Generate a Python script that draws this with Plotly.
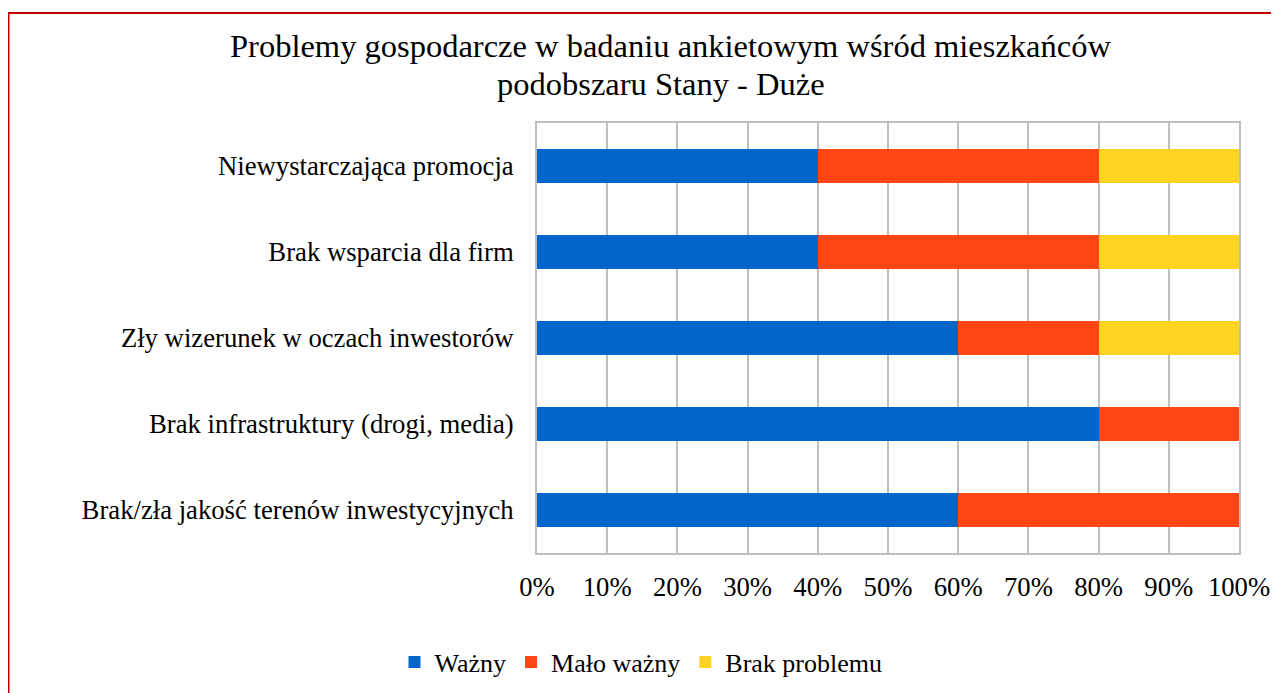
import plotly.graph_objects as go

categories = [
    "Brak/zła jakość terenów inwestycyjnych",
    "Brak infrastruktury (drogi, media)",
    "Zły wizerunek w oczach inwestorów",
    "Brak wsparcia dla firm",
    "Niewystarczająca promocja",
]
wazny = [0.60, 0.80, 0.60, 0.40, 0.40]
malo_wazny = [0.40, 0.20, 0.20, 0.40, 0.40]
brak_problemu = [0.00, 0.00, 0.20, 0.20, 0.20]

title_lines = [
    "Problemy gospodarcze w badaniu ankietowym wśród mieszkańców",
    "podobszaru Stany - Duże",
]

series = [
    ("Ważny", wazny, "#0066CC"),
    ("Mało ważny", malo_wazny, "#FF4512"),
    ("Brak problemu", brak_problemu, "#FFD320"),
]

# strona ma 8px marginesu, więc figura jest o 8px mniejsza
OFF = 8
W, H = 1279 - OFF, 693 - OFF
L, R, T, B = 537 - OFF, 1239 - OFF, 123 - OFF, 553 - OFF

fig = go.Figure()
for name, vals, color in series:
    fig.add_trace(go.Bar(
        y=categories, x=vals, name=name, orientation="h",
        marker=dict(color=color, line=dict(width=0)),
    ))

def px_x(p):
    return (p - OFF - L) / (R - L)

def px_y(p):
    return (B - (p - OFF)) / (B - T)

# czerwona ramka wykresu
fig.add_shape(type="rect", xref="paper", yref="paper",
              x0=px_x(8.5), x1=px_x(1290), y0=px_y(13), y1=px_y(710),
              line=dict(color="#C00000", width=2), layer="below")

# tytuł w dwóch liniach (ciaśniejsza interlinia niż domyślna)
for text, cx, cy in zip(title_lines, [670, 661], [46, 84]):
    fig.add_annotation(text=text, xref="paper", yref="paper",
                       x=px_x(cx), y=px_y(cy), xanchor="center", yanchor="middle",
                       showarrow=False, font=dict(size=32.5))

fig.update_layout(
    width=W, height=H,
    barmode="stack", bargap=0.605,
    paper_bgcolor="white", plot_bgcolor="white",
    font=dict(family="Liberation Serif, Times New Roman, serif", size=26.7, color="black"),
    margin=dict(l=L, r=W - R, t=T, b=H - B, autoexpand=False),
    xaxis=dict(
        range=[0, 1], tickformat=".0%", dtick=0.1,
        showgrid=True, gridcolor="#BFBFBF", gridwidth=1.5,
        showline=True, linecolor="#BFBFBF", linewidth=2, mirror=True,
        zeroline=False, ticks="", ticklabelstandoff=9,
        automargin=False, fixedrange=True,
    ),
    yaxis=dict(
        categoryorder="array", categoryarray=categories,
        showline=True, linecolor="#BFBFBF", linewidth=2, mirror=True,
        showgrid=False, ticks="", ticklabelstandoff=16,
        automargin=False, fixedrange=True,
    ),
    legend=dict(
        orientation="h", x=px_x(641), xanchor="center",
        yref="container", y=1 - (662 - OFF) / H, yanchor="middle",
        font=dict(size=26), itemwidth=30,
        traceorder="normal",
    ),
)

fig.write_html("out.html")
